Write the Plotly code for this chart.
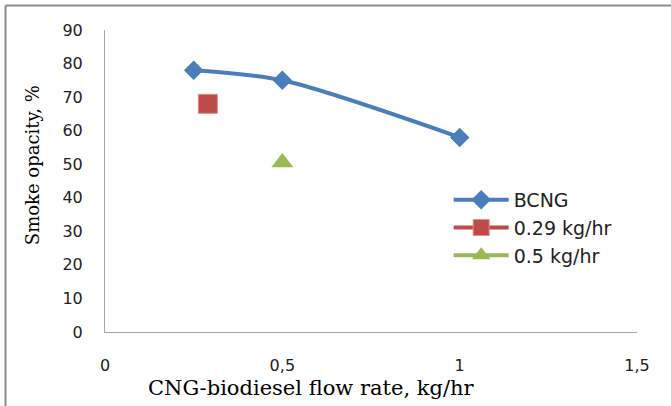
import plotly.graph_objects as go

# Smoke opacity against CNG-biodiesel flow rate
bcng_x = [0.25, 0.5, 1.0]
bcng_y = [78, 75, 58]
flow029_x = [0.29]
flow029_y = [68]
flow05_x = [0.5]
flow05_y = [50.5]

x_tick_vals = [0, 0.5, 1, 1.5]
x_tick_text = ["0", "0,5", "1", "1,5"]
y_tick_vals = [0, 10, 20, 30, 40, 50, 60, 70, 80, 90]

BLUE = "#4A7EBB"
RED = "#BE4B48"
GREEN = "#98B954"
AXIS_GREY = "#A6A6A6"
FRAME_GREY = "#8C8C8C"

fig = go.Figure()
fig.add_trace(go.Scatter(
    x=bcng_x, y=bcng_y, name="BCNG", mode="lines+markers",
    line=dict(color=BLUE, width=4, shape="spline", smoothing=0.8),
    marker=dict(symbol="diamond", size=15, color=BLUE),
))
fig.add_trace(go.Scatter(
    x=flow029_x, y=flow029_y, name="0.29 kg/hr", mode="lines+markers",
    line=dict(color=RED, width=4),
    marker=dict(symbol="square", size=19, color=RED, line=dict(color="#D98F8D", width=1)),
))
fig.add_trace(go.Scatter(
    x=flow05_x, y=flow05_y, name="0.5 kg/hr", mode="lines+markers",
    line=dict(color=GREEN, width=4),
    marker=dict(symbol="triangle-up", size=19, color=GREEN),
))

# outer frame (top and left edges)
fig.add_shape(type="line", xref="paper", yref="paper",
              x0=-0.187, x1=1.07, y0=1.0811, y1=1.0811,
              line=dict(color=FRAME_GREY, width=2))
fig.add_shape(type="line", xref="paper", yref="paper",
              x0=-0.187, x1=-0.187, y0=1.0811, y1=-0.25,
              line=dict(color=FRAME_GREY, width=2))

fig.add_annotation(text="Smoke opacity, %", xref="paper", yref="paper",
                   x=-0.135, y=0.553, xanchor="center", yanchor="middle",
                   textangle=-90, showarrow=False,
                   font=dict(family="DejaVu Serif", size=18, color="#000000"))
fig.add_annotation(text="CNG-biodiesel flow rate, kg/hr", xref="paper", yref="paper",
                   x=0.389, y=-0.186, xanchor="center", yanchor="middle",
                   showarrow=False,
                   font=dict(family="DejaVu Serif", size=21, color="#000000"))

fig.update_xaxes(range=[0, 1.5], tickvals=x_tick_vals, ticktext=x_tick_text,
                 showgrid=False, zeroline=False, showline=True, linecolor=AXIS_GREY,
                 linewidth=1, ticks="", ticklabelstandoff=19,
                 tickfont=dict(family="DejaVu Sans", size=16, color="#222222"))
fig.update_yaxes(range=[0, 90], tickvals=y_tick_vals,
                 showgrid=False, zeroline=False, showline=True, linecolor=AXIS_GREY,
                 linewidth=1, ticks="", ticklabelstandoff=18,
                 tickfont=dict(family="DejaVu Sans", size=16, color="#222222"))

fig.update_layout(
    width=671, height=406,
    margin=dict(l=105, r=34, t=30, b=74),
    paper_bgcolor="white", plot_bgcolor="white",
    showlegend=True,
    legend=dict(x=0.646, y=0.5, xanchor="left", yanchor="top",
                bgcolor="rgba(0,0,0,0)", itemwidth=55,
                font=dict(family="DejaVu Sans", size=19, color="#222222")),
)

fig.write_html("out.html")
